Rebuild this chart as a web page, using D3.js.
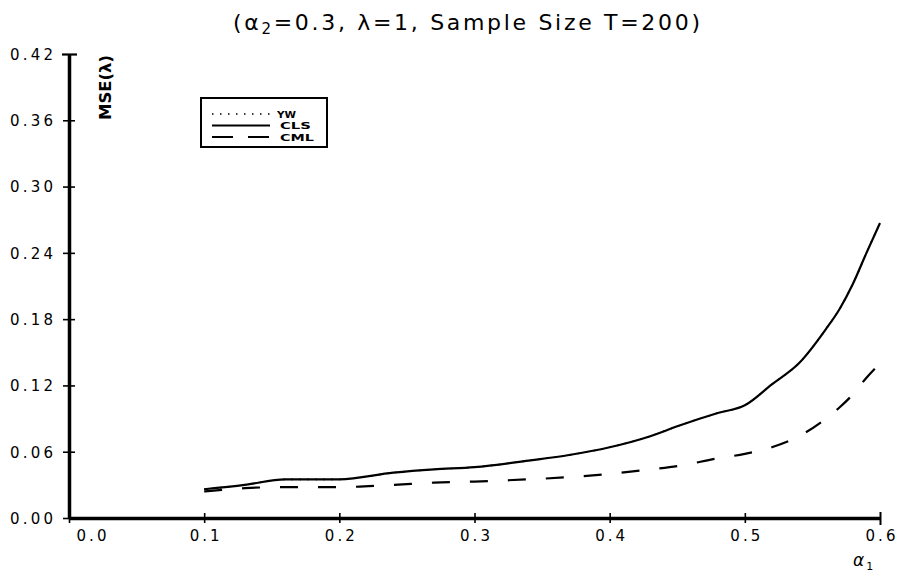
<!DOCTYPE html>
<html>
<head>
<meta charset="utf-8">
<script src="https://cdn.jsdelivr.net/npm/d3@7"></script>
<style>
  html, body { margin: 0; padding: 0; background: #fff; }
  svg { display: block; }
  text { font-family: "DejaVu Sans", sans-serif; fill: #000; }
</style>
</head>
<body>
<svg id="chart" width="900" height="574"></svg>
<script>
// alpha_1 grid and MSE(lambda) for each estimator (alpha_2 = 0.3, lambda = 1, T = 200)
const alpha1 = [0.10, 0.13, 0.16, 0.20, 0.24, 0.27, 0.30, 0.34, 0.37, 0.40, 0.43,
                0.45, 0.48, 0.50, 0.52, 0.54, 0.56, 0.57, 0.58, 0.59, 0.60];
const mseCLS = [0.026, 0.030, 0.035, 0.035, 0.041, 0.044, 0.046, 0.052, 0.057, 0.064, 0.074,
                0.083, 0.095, 0.102, 0.121, 0.140, 0.171, 0.189, 0.212, 0.240, 0.267];
const mseYW  = [0.026, 0.030, 0.035, 0.035, 0.041, 0.044, 0.046, 0.052, 0.057, 0.064, 0.074,
                0.083, 0.095, 0.102, 0.121, 0.140, 0.171, 0.189, 0.212, 0.240, 0.267];
const mseCML = [0.024, 0.027, 0.028, 0.028, 0.030, 0.032, 0.033, 0.035, 0.037, 0.040, 0.044,
                0.047, 0.054, 0.058, 0.064, 0.074, 0.090, 0.100, 0.112, 0.127, 0.140];

const xTicks = [0.0, 0.1, 0.2, 0.3, 0.4, 0.5, 0.6];
const yTicks = [0.00, 0.06, 0.12, 0.18, 0.24, 0.30, 0.36, 0.42];
const seriesNames = ["YW", "CLS", "CML"];

const svg = d3.select("#chart");
const x = d3.scaleLinear().domain([0, 0.6]).range([69, 880]);
const y = d3.scaleLinear().domain([0, 0.42]).range([518, 54]);

// title
const title = svg.append("text")
  .attr("x", 233).attr("y", 30)
  .attr("font-size", 22)
  .attr("textLength", 467).attr("lengthAdjust", "spacing");
title.append("tspan").text("(α");
title.append("tspan").attr("font-size", 15).attr("dy", 4).text("2");
title.append("tspan").attr("dy", -4).text("=0.3, λ=1, Sample Size T=200)");

// x axis
const xAxis = d3.axisBottom(x)
  .tickValues(xTicks)
  .tickFormat(d3.format(".1f"))
  .tickSizeOuter(0);
const gx = svg.append("g").attr("transform", "translate(0,518)").call(xAxis);
gx.select(".domain").attr("stroke", "#000").attr("stroke-width", 3.5);
gx.selectAll(".tick line").attr("stroke", "#000").attr("stroke-width", 1.6)
  .attr("y1", -5).attr("y2", 5);
gx.selectAll(".tick line").filter(d => d === 0.6).attr("y1", -6).attr("y2", 7).attr("stroke-width", 2);
gx.selectAll(".tick text")
  .attr("font-size", 15).attr("font-family", "DejaVu Sans, sans-serif")
  .attr("fill", "#000").attr("y", 23).attr("dy", 0)
  .attr("textLength", 30).attr("lengthAdjust", "spacing")
  .attr("x", d => d === 0 ? 22 : 0);

// y axis
const yAxis = d3.axisLeft(y)
  .tickValues(yTicks)
  .tickFormat(d3.format(".2f"))
  .tickSizeOuter(0);
const gy = svg.append("g").attr("transform", "translate(69,0)").call(yAxis);
gy.select(".domain").attr("stroke", "#000").attr("stroke-width", 3.5);
gy.selectAll(".tick line").attr("stroke", "#000").attr("stroke-width", 1.6)
  .attr("x1", -6).attr("x2", 6);
gy.selectAll(".tick line").filter(d => d === 0.42).attr("x1", -7).attr("x2", 8).attr("stroke-width", 2.2);
gy.selectAll(".tick text")
  .attr("font-size", 15).attr("font-family", "DejaVu Sans, sans-serif")
  .attr("fill", "#000").attr("x", -16).attr("dy", "0.36em")
  .attr("textLength", 43).attr("lengthAdjust", "spacing");

// axis titles
svg.append("text")
  .attr("transform", "translate(111,120) rotate(-90)")
  .attr("font-size", 15).attr("font-weight", "bold")
  .attr("textLength", 65).attr("lengthAdjust", "spacingAndGlyphs")
  .text("MSE(λ)");

const xl = svg.append("text").attr("x", 853).attr("y", 566)
  .attr("font-size", 17).attr("font-style", "italic");
xl.append("tspan").text("α");
xl.append("tspan").attr("font-size", 11).attr("dx", 2).attr("dy", 4).attr("font-style", "normal").text("1");

// curves
const line = d3.line()
  .x(d => x(d[0]))
  .y(d => y(d[1]))
  .curve(d3.curveMonotoneX);

const series = [
  { name: "YW",  values: mseYW,  dash: "1.5,6.5", width: 1.6 },
  { name: "CLS", values: mseCLS, dash: null,      width: 2.2 },
  { name: "CML", values: mseCML, dash: "18,20",   width: 2.2 }
];

svg.append("g").selectAll("path")
  .data(series)
  .join("path")
  .attr("d", s => line(alpha1.map((a, i) => [a, s.values[i]])))
  .attr("fill", "none")
  .attr("stroke", "#000")
  .attr("stroke-width", s => s.width)
  .attr("stroke-dasharray", s => s.dash);

// legend
const lg = svg.append("g");
lg.append("rect")
  .attr("x", 201).attr("y", 98).attr("width", 126).attr("height", 49)
  .attr("fill", "#fff").attr("stroke", "#000").attr("stroke-width", 2);
const legendDash = { YW: "1.5,6.5", CLS: null, CML: "21,15" };
const legendW = { YW: 19, CLS: 31, CML: 34 };
seriesNames.forEach((n, i) => {
  const ly = 114 + i * 11.5;
  lg.append("line")
    .attr("x1", 212).attr("x2", 270).attr("y1", ly).attr("y2", ly)
    .attr("stroke", "#000").attr("stroke-width", n === "YW" ? 1.6 : 2)
    .attr("stroke-dasharray", legendDash[n]);
  lg.append("text")
    .attr("x", n === "YW" ? 277 : 280).attr("y", ly + 3.8)
    .attr("font-size", 9.5).attr("font-weight", "bold")
    .attr("textLength", legendW[n]).attr("lengthAdjust", "spacingAndGlyphs")
    .text(n);
});
</script>
</body>
</html>
